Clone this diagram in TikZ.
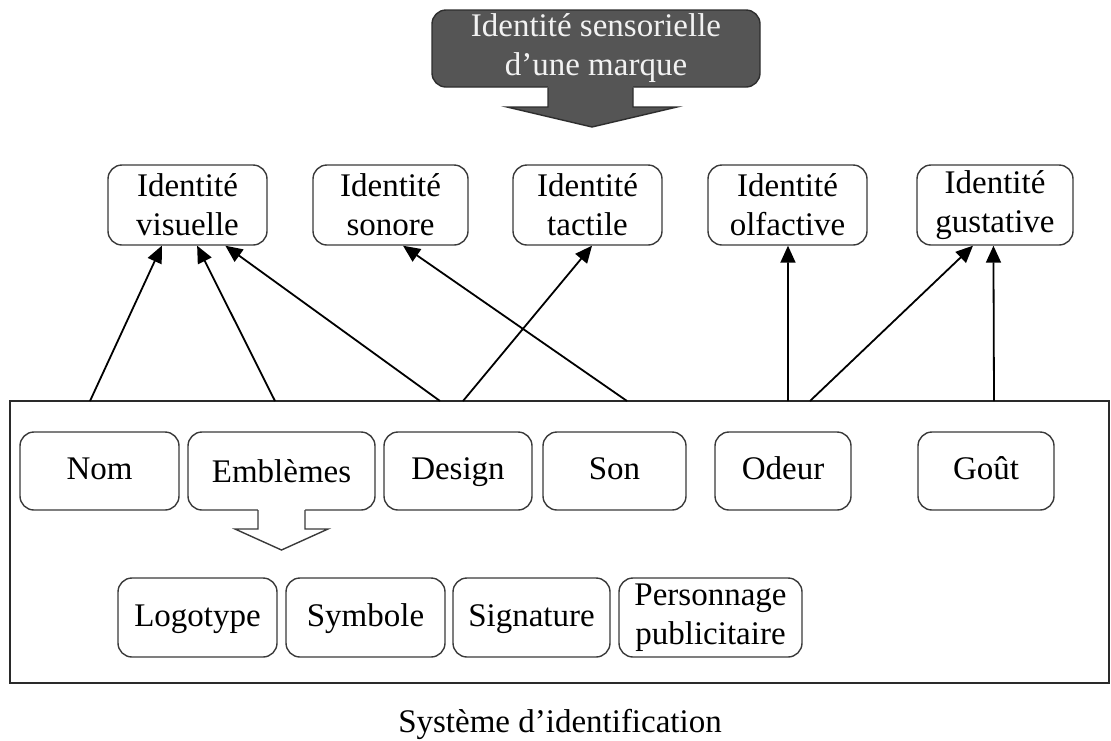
\documentclass[tikz,border=0pt]{standalone}
\usepackage{fontspec}
\setmainfont{Liberation Serif}
\usetikzlibrary{arrows.meta,calc}
\definecolor{boxline}{HTML}{3A3A3A}
\definecolor{frameline}{HTML}{2A2A2A}
\definecolor{darkfill}{HTML}{555555}
\definecolor{darkline}{HTML}{2E2E2E}
\definecolor{lighttext}{HTML}{F2F2F2}
\begin{document}
\begin{tikzpicture}[x=1pt,y=-1pt,
  every node/.style={font=\fontsize{33}{39}\selectfont},
  box/.style={draw=boxline, line width=1.4pt, rounded corners=14pt,
    inner sep=0pt, align=center, fill=white},
  oneline/.style={box, text height=24pt, text depth=7pt},
  topbox/.style={draw=darkline, line width=1.4pt, rounded corners=14pt,
    inner sep=0pt, align=center, fill=darkfill, text=lighttext},
  frame/.style={draw=frameline, line width=1.8pt, inner sep=0pt},
  link/.style={draw=black, line width=1.8pt,
    -{Triangle[length=17pt,width=15pt]}},
]
\useasboundingbox (0,0) rectangle (1111,740);

% headline box with its down arrow
\node[topbox, minimum width=328pt, minimum height=77pt] (top) at (596,48.5)
  {Identité sensorielle\\d’une marque};
\fill[darkfill] (548,84) -- (548,107) -- (507,107) -- (592,127) -- (677,107)
  -- (633,107) -- (633,84) -- cycle;
\draw[darkline, line width=1.4pt, line join=miter] (548,87.5) -- (548,107)
  -- (507,107) -- (592,127) -- (677,107) -- (633,107) -- (633,87.5);

% the five identities
\node[box, minimum width=159pt, minimum height=80pt] (vis) at (187.5,205) {Identité\\visuelle};
\node[box, minimum width=155pt, minimum height=80pt] (sono) at (390.5,205) {Identité\\sonore};
\node[box, minimum width=149pt, minimum height=80pt] (tac) at (587.5,205) {Identité\\tactile};
\node[box, minimum width=159pt, minimum height=80pt] (olf) at (787.5,205) {Identité\\olfactive};
\node[box, minimum width=156pt, minimum height=80pt] (gus) at (995,205) {Identité\\gustative};

% identification system frame
\node[frame, minimum width=1099pt, minimum height=282pt] (sys) at (559.5,542) {};

% first row of elements
\node[oneline, minimum width=159pt, minimum height=78pt] (nom) at (99.5,471) {Nom};
\node[oneline, text height=30pt, minimum width=187pt, minimum height=78pt] (emb) at (281.5,471) {Emblèmes};
\node[oneline, minimum width=148pt, minimum height=78pt] (des) at (458,471) {Design};
\node[oneline, minimum width=143pt, minimum height=78pt] (son) at (614.5,471) {Son};
\node[oneline, minimum width=136pt, minimum height=78pt] (ode) at (783,471) {Odeur};
\node[oneline, minimum width=136pt, minimum height=78pt] (gou) at (986,471) {Goût};

% hollow arrow under the emblems box
\fill[white] (258,507) -- (258,529) -- (235,529) -- (281.5,550) -- (328,529)
  -- (305,529) -- (305,507) -- cycle;
\draw[boxline, line width=1.4pt, line join=miter] (258,510) -- (258,529)
  -- (235,529) -- (281.5,550) -- (328,529) -- (305,529) -- (305,510);

% second row: kinds of emblems
\node[oneline, minimum width=159pt, minimum height=79pt] (logo) at (197.5,617.5) {Logotype};
\node[oneline, minimum width=159pt, minimum height=79pt] (sym) at (365.5,617.5) {Symbole};
\node[oneline, minimum width=157pt, minimum height=79pt] (sig) at (531.5,617.5) {Signature};
\node[box, minimum width=183pt, minimum height=79pt] (pers) at (710.5,617.5)
  {Personnage\\publicitaire};

\node[anchor=base] (cap) at (560,732) {Système d’identification};

% links from the frame to the identities
\coordinate (a1) at (90,401);
\coordinate (a2) at (275,401);
\coordinate (a3) at (440,401);
\coordinate (a4) at (463,401);
\coordinate (a5) at (627,401);
\coordinate (a6) at (788,401);
\coordinate (a7) at (810,401);
\coordinate (a8) at (994,401);

\draw[link] (a1) -- ($(vis.south west)!0.34!(vis.south east)$);
\draw[link] (a2) -- ($(vis.south west)!0.56!(vis.south east)$);
\draw[link] (a3) -- ($(vis.south west)!0.736!(vis.south east)$);
\draw[link] (a4) -- ($(tac.south west)!0.53!(tac.south east)$);
\draw[link] (a5) -- ($(sono.south west)!0.58!(sono.south east)$);
\draw[link] (a6) -- ($(olf.south west)!0.503!(olf.south east)$);
\draw[link] (a7) -- ($(gus.south west)!0.36!(gus.south east)$);
\draw[link] (a8) -- ($(gus.south west)!0.49!(gus.south east)$);
\end{tikzpicture}
\end{document}
